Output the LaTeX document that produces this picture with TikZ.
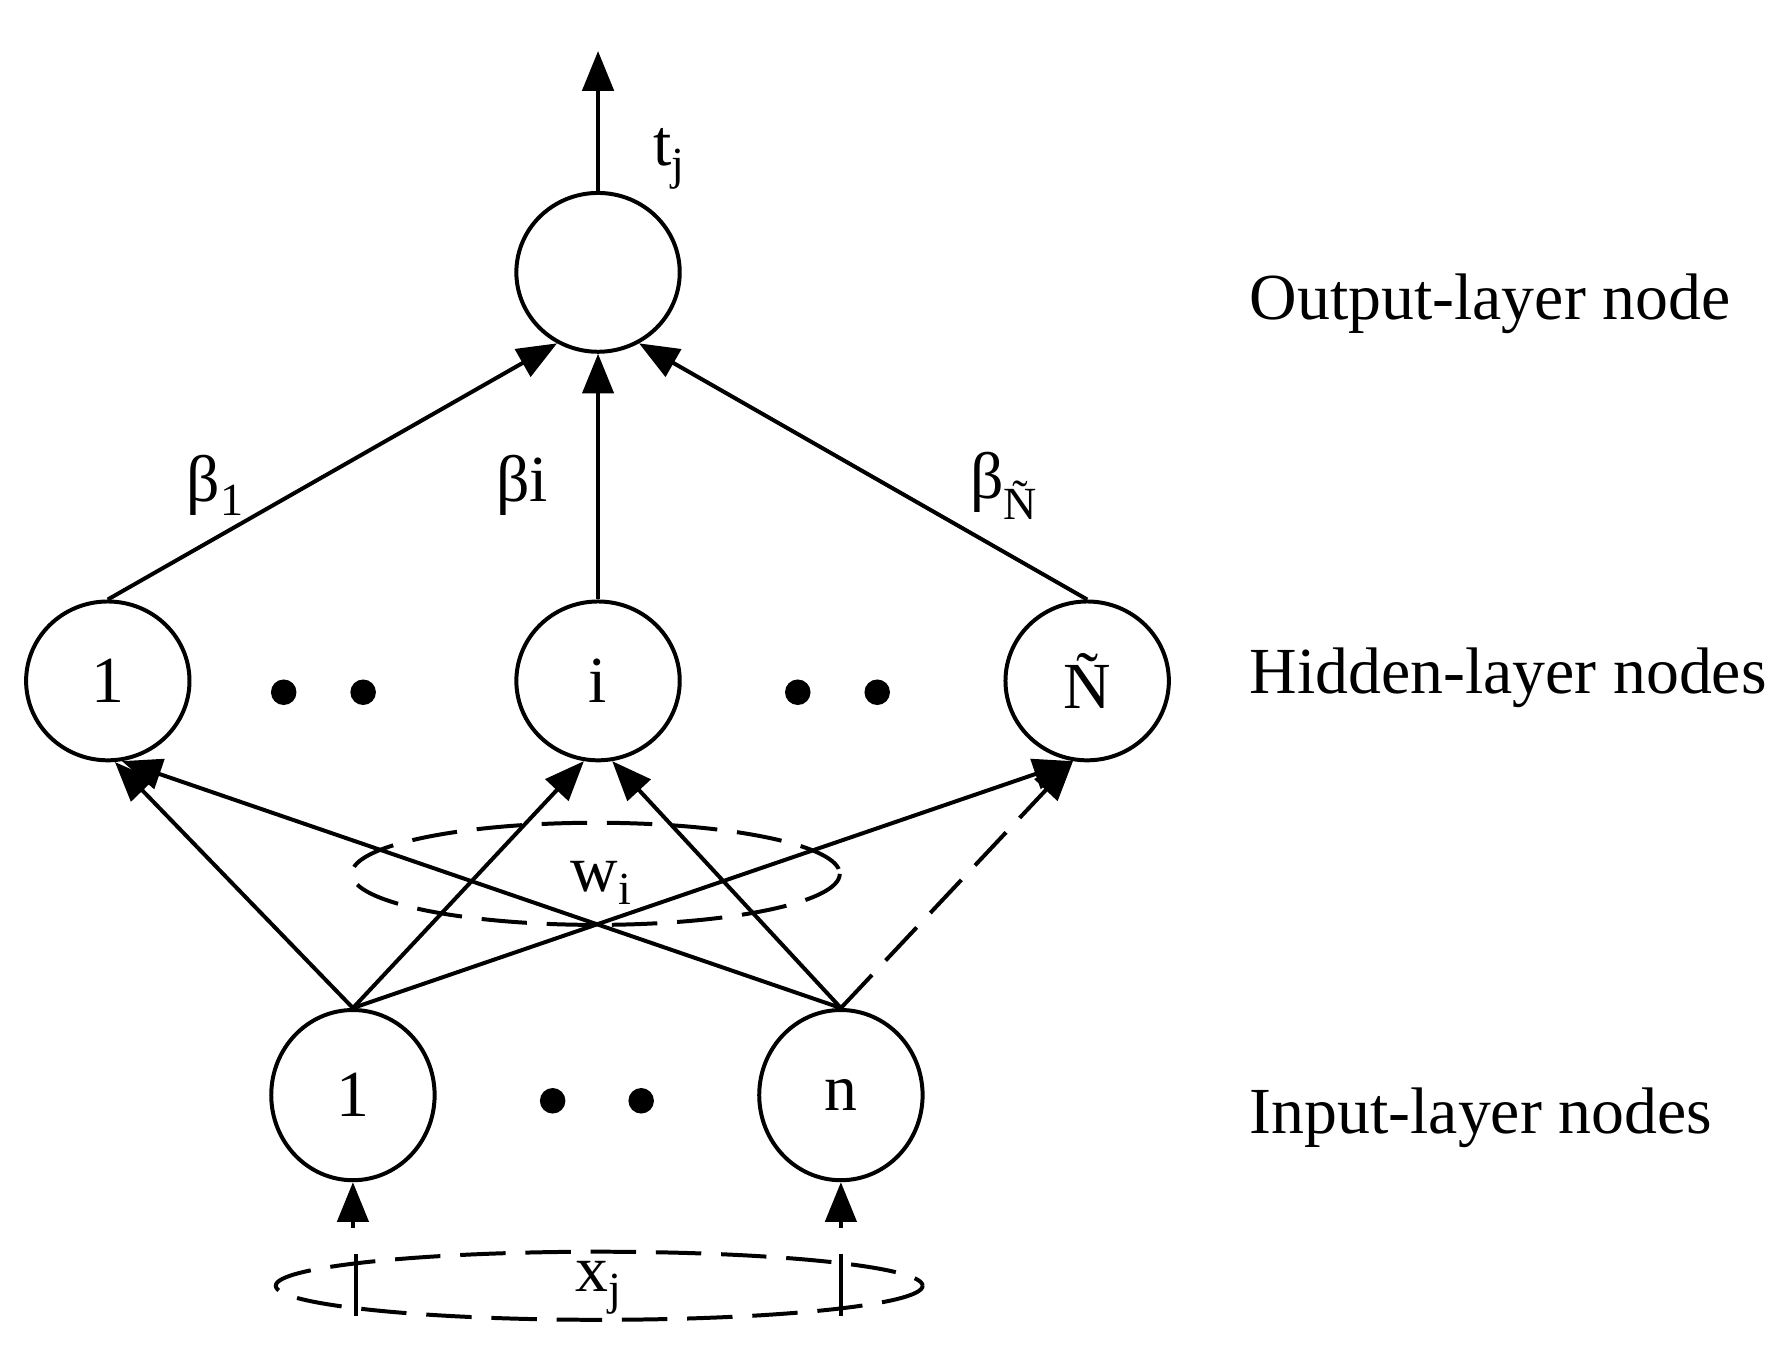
\documentclass[tikz,border=0pt]{standalone}
\usepackage{fontspec}
\setmainfont{Liberation Serif}
\usetikzlibrary{arrows.meta,shapes.geometric}
\begin{document}
\begin{tikzpicture}[x=0.02cm,y=-0.02cm,
  neuron/.style={draw,line width=2pt,ellipse,minimum width=2.88cm,minimum height=2.8cm,inner sep=0pt,font=\fontsize{33}{33}\selectfont},
  arr/.style={line width=2pt,-{Triangle[length=0.7cm,width=0.55cm]}},
  lbl/.style={font=\fontsize{33}{33}\selectfont},
  dot/.style={fill,circle,inner sep=0pt,minimum size=0.45cm},
  dsh/.style={line width=2pt,dash pattern=on 0.8cm off 0.35cm}]
\useasboundingbox (0,0) rectangle (1565,1196);
\node[neuron] (o) at (527,240) {};
\node[neuron] (h1) at (95,600) {1};
\node[neuron] (hi) at (527,600) {i};
\node[neuron] (hN) at (958,600) {Ñ};
\node[neuron,minimum height=3cm] (i1) at (311,965) {1};
\node[neuron,minimum height=3cm] (in) at (741,965) {n};
\foreach \x/\y [count=\k] in {250/610,320/610,703/610,773/610,487/970,565/970} \node[dot] (d\k) at (\x,\y) {};
\coordinate (top) at (527,45);
\draw[arr] (o.north) -- (top);
\node[lbl] (tj) at (590,140) {t\textsubscript{j}};
\draw[arr] (h1.north) -- (o.-120);
\draw[arr] (hi.north) -- (o.south);
\draw[arr] (hN.north) -- (o.-60);
\node[lbl] (b1) at (190,428) {β\textsubscript{1}};
\node[lbl] (bi) at (460,428) {βi};
\node[lbl] (bN) at (885,428) {β\textsubscript{Ñ}};
\draw[dsh] (525,770) ellipse (215 and 45);
\node[lbl] (wi) at (530,778) {w\textsubscript{i}};
\draw[arr] (i1.north) -- (h1.-85);
\draw[arr] (i1.north) -- (hi.-100);
\draw[arr] (i1.north) -- (hN.-100);
\draw[arr] (in.north) -- (h1.-80);
\draw[arr] (in.north) -- (hi.-80);
\draw[arr,dash pattern=on 0.8cm off 0.35cm] (in.north) -- (hN.-100);
\coordinate (a1) at (311,1082); \coordinate (an) at (741,1082);
\draw[arr] (a1) -- (i1.south);
\draw[arr] (an) -- (in.south);
\draw[dsh] (528,1133) ellipse (285 and 30);
\coordinate (t1a) at (314,1105); \coordinate (t1b) at (314,1160);
\coordinate (tna) at (741,1105); \coordinate (tnb) at (741,1160);
\draw[line width=2pt] (t1a) -- (t1b) (tna) -- (tnb);
\node[lbl] (xj) at (528,1135) {x\textsubscript{j}};
\node[lbl,anchor=west] (L1) at (1095,268) {Output-layer node};
\node[lbl,anchor=west] (L2) at (1095,597) {Hidden-layer nodes};
\node[lbl,anchor=west] (L3) at (1095,985) {Input-layer nodes};
\end{tikzpicture}
\end{document}
